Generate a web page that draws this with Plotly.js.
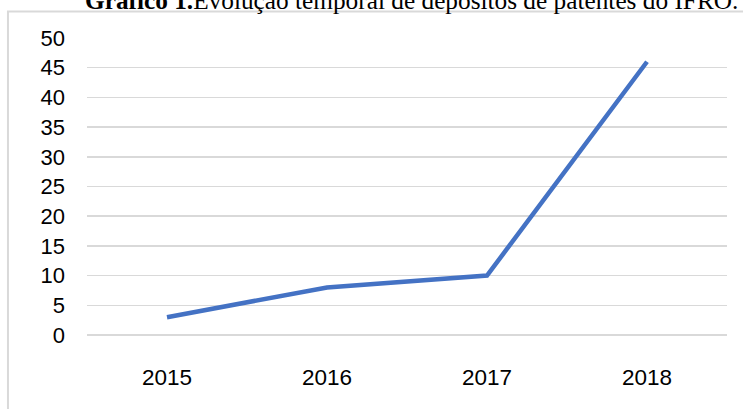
<!DOCTYPE html>
<html>
<head>
<meta charset="utf-8">
<script src="https://cdn.plot.ly/plotly-3.0.1.min.js"></script>
<style>html,body{margin:0;padding:0;background:#fff}#chart{width:743px;height:409px}</style>
</head>
<body>
<div id="chart"></div>
<script>
const years = ['2015', '2016', '2017', '2018'];
const deposits = [3, 8, 10, 46];
const yTicks = [0, 5, 10, 15, 20, 25, 30, 35, 40, 45, 50];
const titleBold = 'Gráfico 1.';
const titleRest = 'Evolução temporal de depósitos de patentes do IFRO.';

const trace = {
  x: years,
  y: deposits,
  type: 'scatter',
  mode: 'lines',
  line: {color: '#4472C4', width: 4.5},
  hoverinfo: 'skip'
};

const layout = {
  width: 743,
  height: 409,
  margin: {l: 87, r: 16, t: 38, b: 74},
  paper_bgcolor: '#ffffff',
  plot_bgcolor: '#ffffff',
  showlegend: false,
  font: {family: 'Liberation Sans, Arial, sans-serif', color: '#000000', size: 22},
  xaxis: {
    type: 'category',
    range: [-0.5, 3.5],
    showgrid: false,
    zeroline: false,
    showline: false,
    ticks: '',
    ticklabelstandoff: 26,
    tickfont: {size: 22.5, color: '#000000'}
  },
  yaxis: {
    range: [0, 50],
    tickvals: yTicks,
    ticktext: yTicks.map(String),
    showgrid: true,
    gridcolor: '#d9d9d9',
    gridwidth: 1.5,
    zeroline: true,
    zerolinecolor: '#d9d9d9',
    zerolinewidth: 1.5,
    showline: false,
    ticks: '',
    ticklabelstandoff: 21,
    tickfont: {size: 22, color: '#000000'}
  },
  shapes: [{
    type: 'rect', xref: 'paper', yref: 'paper',
    x0: -0.1235, x1: 1.2, y0: -0.4, y1: 1.0895,
    line: {color: '#d9d9d9', width: 2},
    fillcolor: 'rgba(0,0,0,0)',
    layer: 'below'
  }],
  annotations: [{
    xref: 'paper', yref: 'paper',
    x: (411.5 - 87) / 640, y: 1.075,
    xanchor: 'center', yanchor: 'bottom',
    showarrow: false,
    text: '<b>' + titleBold + '</b>' + titleRest,
    font: {family: 'Liberation Serif, Times New Roman, serif', size: 25.3, color: '#000000'}
  }]
};

Plotly.newPlot('chart', [trace], layout, {staticPlot: true, displayModeBar: false});
</script>
</body>
</html>
